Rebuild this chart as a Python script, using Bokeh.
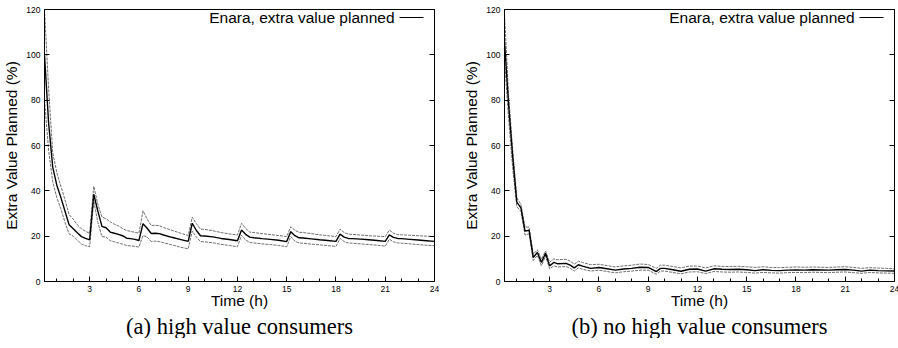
from bokeh.plotting import figure
from bokeh.models import Range1d, FixedTicker, LinearAxis, Label, Arrow, Title
from bokeh.layouts import row
from bokeh.embed import file_html
from bokeh.resources import INLINE

# ---------------- data ----------------
time_a = [0.25, 0.5, 0.75, 1.0, 1.25, 1.5, 1.75, 2.0, 2.25, 2.5, 2.75, 3.0,
          3.25, 3.5, 3.75, 4.0, 4.25, 4.5, 4.75, 5.0, 5.25, 5.5, 5.75, 6.0,
          6.25, 6.5, 6.75, 7.0, 7.25, 7.5, 8.0, 8.5, 9.0,
          9.25, 9.5, 9.75, 10.0, 10.5, 11.0, 11.5, 12.0,
          12.25, 12.5, 12.75, 13.0, 13.5, 14.0, 14.5, 15.0,
          15.25, 15.5, 15.75, 16.0, 16.5, 17.0, 17.5, 18.0,
          18.25, 18.5, 18.75, 19.0, 19.5, 20.0, 20.5, 21.0,
          21.25, 21.5, 21.75, 22.0, 22.5, 23.0, 23.5, 24.0]
extra_a = [100, 70, 50.5, 42.5, 37, 31, 25, 23.3, 21.5, 19.8, 19.0, 18.4,
           38.5, 31, 24.3, 23.7, 21.8, 21.3, 20.8, 20.2, 19.1, 18.9, 18.6, 18.1,
           25.5, 23.5, 21.2, 21.3, 21.1, 20.5, 19.5, 18.6, 17.7,
           25.7, 22.5, 20.2, 20.1, 19.7, 19.0, 18.5, 18.0,
           22.7, 20.8, 19.6, 19.3, 18.9, 18.6, 18.2, 17.6,
           22.0, 20.2, 19.3, 19.2, 18.8, 18.4, 18.1, 17.7,
           20.9, 19.6, 19.0, 18.9, 18.7, 18.4, 18.1, 17.7,
           20.6, 19.5, 19.0, 18.9, 18.6, 18.3, 18.0, 17.7]
upper_a = [120, 85, 57, 48, 42, 36, 29.5, 27.5, 25, 23.2, 22.2, 21.2,
           42, 34, 28.4, 27.7, 26.3, 25.3, 24.5, 23.4, 22.5, 22.1, 21.7, 21.3,
           31.2, 27.5, 24.7, 24.8, 24.6, 23.8, 22.6, 21.4, 20.3,
           28.4, 25.5, 23.1, 23.0, 22.4, 21.6, 21.0, 20.5,
           25.7, 23.4, 21.8, 21.6, 21.1, 20.7, 20.3, 19.8,
           24.2, 22.6, 21.7, 21.6, 21.1, 20.6, 20.2, 19.8,
           23.1, 21.6, 20.9, 20.8, 20.5, 20.2, 20.0, 19.8,
           22.7, 21.3, 20.7, 20.6, 20.4, 20.2, 20.0, 19.8]
lower_a = [80, 58, 44, 37, 32, 26, 21, 20, 18.3, 16.5, 15.8, 15.3,
           35.5, 26, 19.8, 19.6, 18.0, 17.5, 17.0, 16.5, 15.9, 15.7, 15.5, 15.2,
           20.3, 19.6, 17.7, 17.8, 17.6, 17.1, 16.2, 15.2, 14.4,
           22.3, 19.6, 17.6, 17.5, 17.1, 16.4, 15.9, 15.3,
           20.4, 18.3, 17.2, 17.0, 16.6, 16.3, 15.9, 15.3,
           19.8, 17.8, 17.0, 16.9, 16.5, 16.2, 15.8, 15.5,
           19.0, 17.6, 17.0, 16.9, 16.6, 16.3, 16.0, 15.6,
           18.7, 17.5, 17.0, 16.9, 16.6, 16.3, 16.0, 15.8]

time_b = [0.25, 0.5, 0.75, 1.0, 1.25, 1.5, 1.75, 2.0, 2.25, 2.5, 2.75, 3.0,
          3.25, 3.5, 4.0, 4.25, 4.5, 4.75, 5.0,
          5.5, 6.0, 6.5, 7.0, 7.5, 8.0, 8.5, 9.0, 9.5, 9.75, 10.0, 10.5,
          11.0, 11.5, 12.0, 12.5, 13.0, 13.5, 14.0, 14.5, 15.0, 15.5, 16.0,
          16.5, 17.0, 17.5, 18.0, 18.5, 19.0, 19.5, 20.0, 20.5, 21.0, 21.5,
          22.0, 22.5, 23.0, 23.5, 24.0]
extra_b = [106, 78, 55, 35, 32.5, 22.2, 22.6, 10.6, 12.8, 8.4, 12.5, 6.9,
           8.4, 7.8, 8.0, 7.2, 6.0, 7.4, 6.8,
           5.8, 6.2, 5.6, 5.0, 5.5, 5.8, 6.3, 6.2, 4.4, 5.8, 5.8, 5.2,
           4.5, 5.4, 5.5, 4.6, 5.6, 5.4, 5.3, 5.4, 5.2, 4.8, 5.2,
           4.9, 4.8, 5.0, 5.1, 5.0, 5.2, 5.1, 5.0, 5.2, 5.3, 5.0,
           4.6, 5.0, 4.8, 4.7, 4.6]
upper_b = [118, 82, 58, 37, 34, 24, 24, 12, 14, 9.8, 13.5, 8.5,
           10, 9.6, 9.8, 9.0, 7.6, 9.0, 8.4,
           7.4, 7.6, 7.0, 6.4, 6.9, 7.2, 7.7, 7.5, 5.8, 7.2, 7.2, 6.6,
           6.0, 6.8, 6.8, 6.0, 6.9, 6.7, 6.6, 6.7, 6.5, 6.2, 6.5,
           6.2, 6.1, 6.3, 6.4, 6.3, 6.4, 6.3, 6.2, 6.4, 6.5, 6.2,
           5.8, 6.1, 5.9, 5.8, 5.6]
lower_b = [98, 72, 50, 33, 31, 20.5, 21, 9.3, 11.5, 7.0, 11.2, 5.6,
           6.9, 6.4, 6.6, 5.8, 4.6, 6.0, 5.4,
           4.6, 5.0, 4.4, 3.8, 4.3, 4.6, 5.0, 5.0, 3.2, 4.6, 4.6, 4.0,
           3.4, 4.2, 4.3, 3.5, 4.4, 4.2, 4.1, 4.2, 4.0, 3.7, 4.0,
           3.8, 3.7, 3.9, 4.0, 3.9, 4.1, 4.0, 3.9, 4.1, 4.2, 3.9,
           3.6, 4.0, 3.8, 3.7, 3.6]

x_ticks = [3, 6, 9, 12, 15, 18, 21, 24]
x_minor = [1, 2, 4, 5, 7, 8, 10, 11, 13, 14, 16, 17, 19, 20, 22, 23]
y_ticks = [0, 20, 40, 60, 80, 100, 120]
legend_text = "Enara, extra value planned"
x_title = "Time (h)"
y_title = "Extra Value Planned (%)"
caption_a = "(a) high value consumers"
caption_b = "(b) no high value consumers"

SANS = "Liberation Sans"
SERIF = "Liberation Serif"


def panel(times, mid, up, lo, caption, border_right):
    p = figure(frame_width=390, frame_height=272,
               x_range=Range1d(0.25, 24), y_range=Range1d(0, 120),
               output_backend="svg", toolbar_location=None,
               min_border_left=43, min_border_right=border_right,
               min_border_top=9, min_border_bottom=20)
    p.xgrid.visible = False
    p.ygrid.visible = False
    p.outline_line_color = "black"
    p.outline_line_width = 1
    p.background_fill_color = "white"
    p.border_fill_color = "white"

    xa = p.xaxis[0]
    xa.ticker = FixedTicker(ticks=x_ticks, minor_ticks=x_minor)
    ya = p.yaxis[0]
    ya.ticker = FixedTicker(ticks=y_ticks)
    for ax in (xa, ya):
        ax.major_tick_in = 5
        ax.major_tick_out = 0
        ax.minor_tick_in = 3
        ax.minor_tick_out = 0
        ax.axis_line_color = "black"
        ax.major_tick_line_color = "black"
        ax.minor_tick_line_color = "black"
        ax.major_label_text_font = SANS
        ax.major_label_text_font_size = "8.5px"
        ax.major_label_text_color = "black"
        ax.axis_label_text_font = SANS
        ax.axis_label_text_font_size = "15.5px"
        ax.axis_label_text_font_style = "normal"
        ax.axis_label_text_color = "black"
    ya.minor_tick_line_color = None
    xa.axis_label = x_title
    ya.axis_label = y_title
    xa.major_label_standoff = 4
    xa.axis_label_standoff = -3
    ya.major_label_standoff = 4
    ya.axis_label_standoff = 3

    right = LinearAxis(ticker=FixedTicker(ticks=y_ticks),
                       major_label_text_color=None,
                       major_label_text_font_size="8.5px",
                       major_label_standoff=0,
                       major_tick_in=5, major_tick_out=0,
                       minor_tick_line_color=None,
                       axis_line_color="black")
    p.add_layout(right, "right")

    p.line(times, up, line_color="#6e6e6e", line_width=1, line_dash="3 1")
    p.line(times, lo, line_color="#6e6e6e", line_width=1, line_dash="3 1")
    p.line(times, mid, line_color="black", line_width=1.4)

    p.add_layout(Label(x=350, y=264, x_units="screen", y_units="screen",
                       text=legend_text, text_align="right",
                       text_baseline="middle", text_font=SANS,
                       text_font_size="15.5px", text_color="black"))
    p.add_layout(Arrow(end=None, x_start=355, y_start=264, x_end=379, y_end=264,
                       start_units="screen", end_units="screen",
                       line_color="black", line_width=1))

    p.add_layout(Title(text=caption, align="center",
                       text_font=SERIF, text_font_size="22.5px",
                       text_font_style="normal", text_color="black",
                       standoff=0), "below")
    return p


pa = panel(time_a, extra_a, upper_a, lower_a, caption_a, 26)
pb = panel(time_b, extra_b, upper_b, lower_b, caption_b, 6)

layout = row(pa, pb)
open("out.html", "w").write(file_html(layout, INLINE))
